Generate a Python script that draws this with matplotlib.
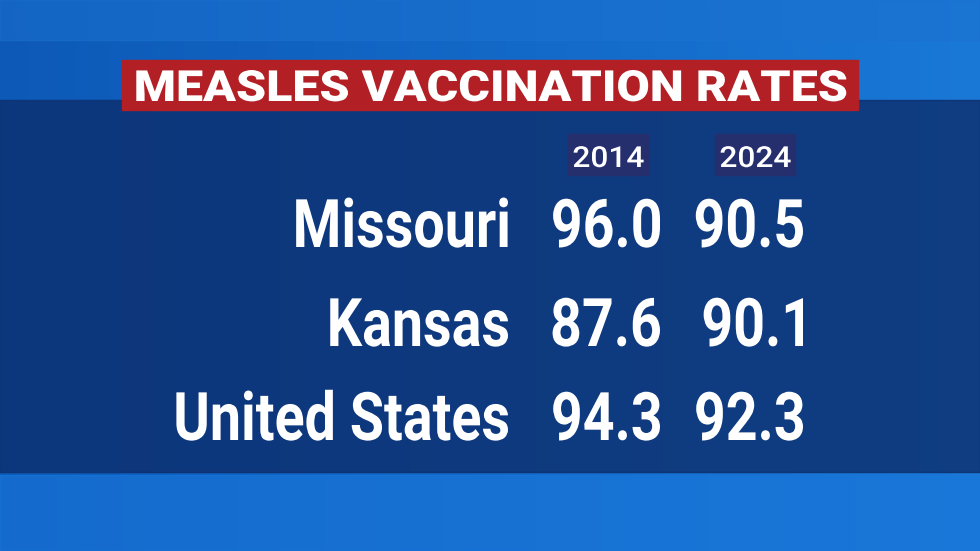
import matplotlib.pyplot as plt
import matplotlib.patches as mpatches
from matplotlib.textpath import TextPath
from matplotlib.font_manager import FontProperties
from matplotlib.transforms import Affine2D
import numpy as np

title = 'MEASLES VACCINATION RATES'
years = ['2014', '2024']
places = ['Missouri', 'Kansas', 'United States']
rate_2014 = [96.0, 87.6, 94.3]
rate_2024 = [90.5, 90.1, 92.3]

bold = FontProperties(family='Roboto', weight='bold')
heavy = FontProperties(family='Roboto', weight='black')
medium = FontProperties(family='Roboto', weight='medium')

fig = plt.figure(figsize=(9.8, 5.51), dpi=100)
ax = fig.add_axes([0, 0, 1, 1])
ax.set_xlim(0, 980)
ax.set_ylim(551, 0)
ax.axis('off')


def narrow_text(x, y, s, size, prop, width=None, squeeze=0.8, ha='right'):
    # draw text as a path, squeezed sideways like a condensed face; y is baseline
    path = TextPath((0, 0), s, size=size, prop=prop)
    ext = path.get_extents()
    if width is not None:
        squeeze = width / ext.width
    w = ext.x1 * squeeze
    x0 = {'right': x - w, 'center': x - w / 2, 'left': x}[ha]
    tr = Affine2D().scale(squeeze, -1).translate(x0, y)
    ax.add_patch(mpatches.PathPatch(tr.transform_path(path), color='white', lw=0, zorder=3))


# blue background with gradient
g = np.linspace(0, 1, 256)[None, :]
bg = np.zeros((1, 256, 3))
bg[..., 0] = 0.05 + 0.05 * g
bg[..., 1] = 0.35 + 0.12 * g
bg[..., 2] = 0.72 + 0.12 * g
ax.imshow(bg, extent=[0, 980, 551, 0], aspect='auto', zorder=0)
ax.add_patch(mpatches.Rectangle((0, 0), 980, 40, color='#1c72d0', alpha=0.5, zorder=1))
ax.add_patch(mpatches.Rectangle((0, 475), 980, 76, color='#1a78dc', alpha=0.6, zorder=1))
# dark band
ax.add_patch(mpatches.Rectangle((0, 100), 980, 372, color='#0d2a66', alpha=0.75, zorder=1))
ax.add_patch(mpatches.Rectangle((0, 100), 120, 372, color='#0d3b80', alpha=0.4, zorder=1))

# title
ax.add_patch(mpatches.Rectangle((122, 60), 736, 50, color='#b21f24', zorder=2))
narrow_text(490, 101, title, 43, heavy, width=710, ha='center')

# year headers
for xr, yr in zip([648, 795], years):
    ax.add_patch(mpatches.Rectangle((xr - 80, 134), 80, 41, color='#262f6e', zorder=2))
    narrow_text(xr - 40, 167, yr, 29, medium, width=70, ha='center')

base = [247, 346, 440]
for y, p, a, b in zip(base, places, rate_2014, rate_2024):
    narrow_text(508, y, p, 67, bold, squeeze=0.83)
    narrow_text(660, y, f'{a:.1f}', 67, bold, squeeze=0.83)
    narrow_text(803, y, f'{b:.1f}', 67, bold, squeeze=0.83)

fig.savefig('out.png', dpi=100)
